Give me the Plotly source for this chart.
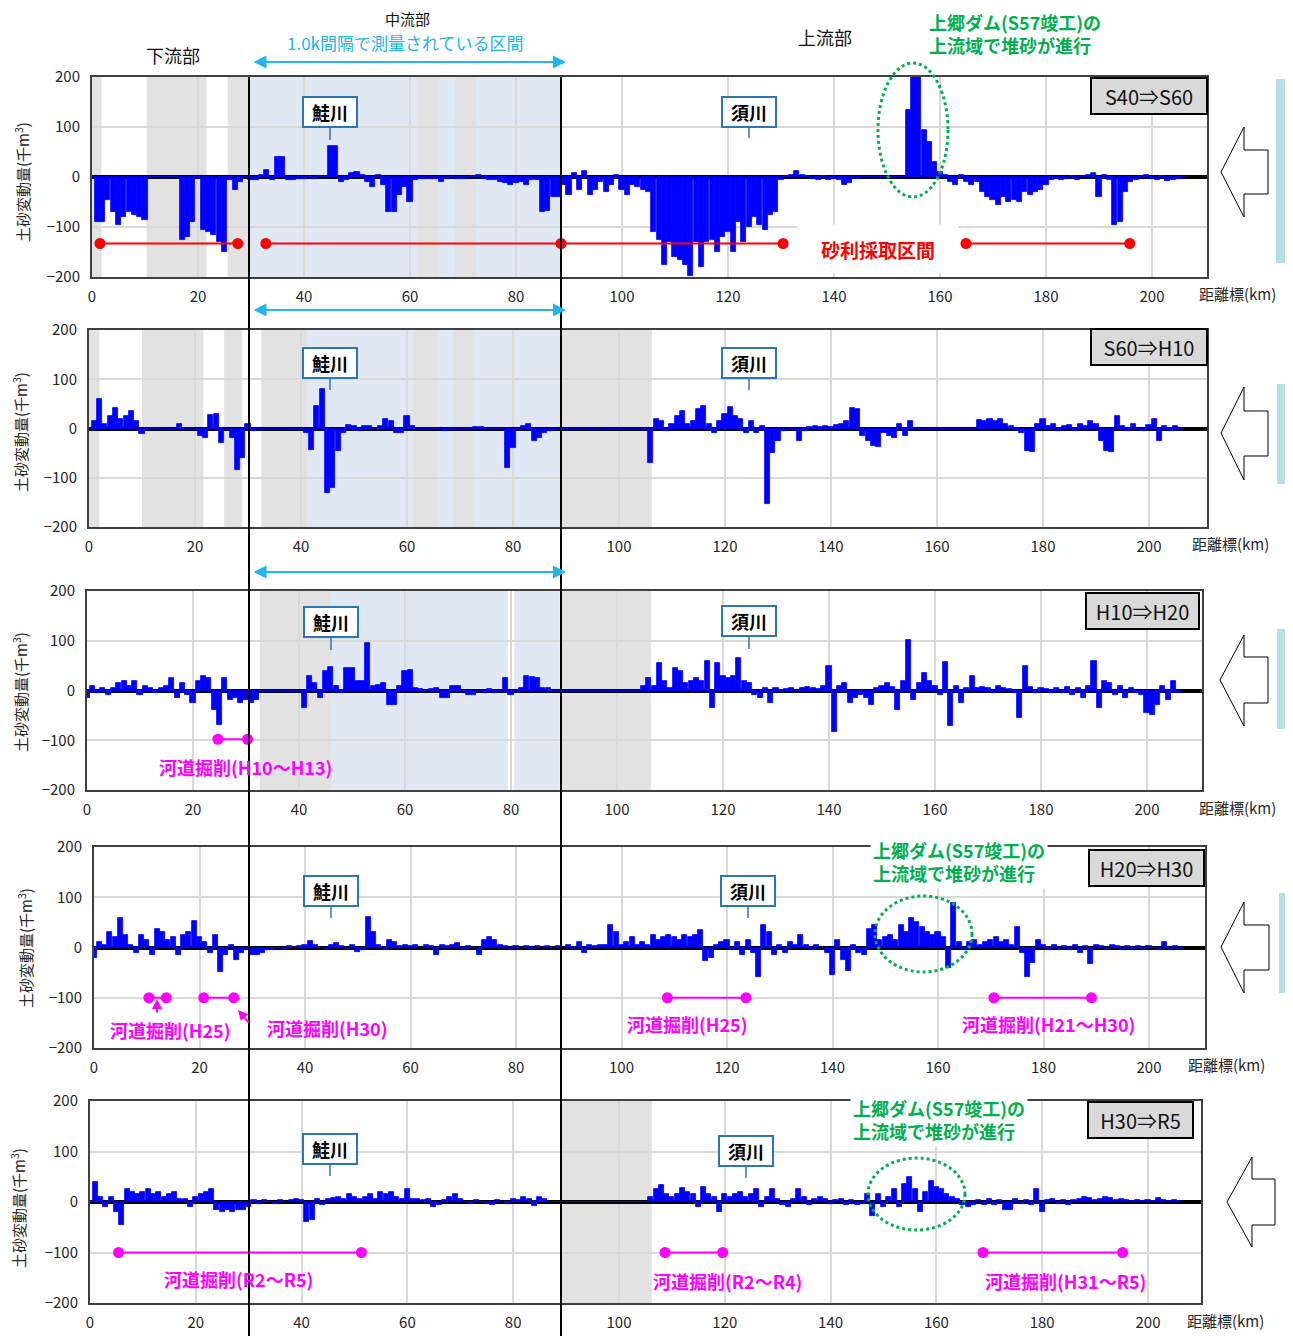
import plotly.graph_objects as go

# the page body has an 8px margin, so the figure is drawn 8px in from the window edge
OFF = 8
W, H = 1293 - OFF, 1336 - OFF
def px(x):
    return (x - OFF) / W
def py(y):
    return 1 - (y - OFF) / H

# ---------------- data ----------------
km = list(range(207))
xticks = [0, 20, 40, 60, 80, 100, 120, 140, 160, 180, 200]
yticks = [-200, -100, 0, 100, 200]
periods = ["S40⇒S60", "S60⇒H10", "H10⇒H20", "H20⇒H30", "H30⇒R5"]

s40_s60 = [0, -90, -90, -45, -70, -95, -80, -70, -75, -80,
           -85, 0, 0, 0, 0, 0, 0, -125, -120, -90,
           0, -105, -110, -115, -130, -150, -5, -25, -10, 0,
           -5, -5, 5, 15, -5, 40, 40, -5, -5, -3,
           -3, 0, -3, 2, 0, 62, 62, -10, -5, 8,
           10, 5, -10, -20, 5, -15, -70, -70, -35, -20,
           -50, -5, -3, -3, -3, -3, -10, -3, 0, -3,
           -3, -2, 3, 5, -3, -5, -5, -10, -12, -15,
           -12, -10, -15, -5, -5, -70, -68, -40, -40, -15,
           -35, 8, -25, 12, -35, -25, -10, -30, -15, 5,
           -25, -35, -15, -20, -25, -30, -110, -125, -175, -130,
           -160, -165, -175, -198, -130, -180, -130, -125, -150, -120,
           -110, -150, -90, -130, -100, -80, -95, -105, -75, -70,
           -5, 2, 5, 12, 5, 3, -3, -5, 3, -5,
           -3, -5, -15, -12, -3, -2, 0, 0, 0, 0,
           0, 0, 0, 0, 135, 200, 200, 95, 70, 30,
           10, 5, -10, -15, 5, -10, -15, -10, -30, -40,
           -45, -55, -40, -50, -45, -50, -30, -35, -30, -25,
           -15, -5, -3, -5, -3, 3, -5, 2, 5, 8,
           -40, 5, -5, -95, -90, -30, -10, -5, 3, 5,
           -3, -5, 3, -8, -5, -3, -2]

s60_h10 = [0, 15, 60, 10, 25, 42, 20, 25, 35, 15,
           -12, 0, 0, 0, 0, 0, 0, 10, 0, 0,
           0, -15, -20, 28, 30, -30, 0, -20, -85, -60,
           10, -5, -3, 0, 0, 0, 0, 0, 0, 0,
           0, -10, -44, 45, 80, -130, -120, -45, -10, 8,
           5, -5, 5, 5, 0, 5, 20, 15, -10, -10,
           25, 5, 0, 0, 0, 0, 0, -5, 0, 0,
           0, 0, 0, 3, 3, 0, 0, 0, 0, -80,
           -40, 0, 5, 10, -25, -20, -10, -5, 0, 0,
           0, 0, 0, 0, 0, 0, 0, 0, 0, 0,
           0, 0, 0, 0, 0, 0, -70, 20, 15, -5,
           10, 25, 35, 10, 15, 40, 45, 10, -10, 15,
           30, 43, 25, 20, -10, 15, -10, 5, -153, -50,
           -25, -5, -3, 0, -25, -5, 3, 5, 3, 5,
           3, 8, 10, 15, 42, 40, -15, -25, -35, -37,
           -10, -15, -20, 10, -15, 15, 0, 0, 0, 0,
           0, 0, 0, 0, 0, 0, 0, 0, 18, 15,
           20, 15, 20, 10, 5, 0, -10, -45, -47, 10,
           20, 5, 10, -5, 5, 8, -5, 10, 5, 15,
           10, -25, -45, -47, 25, 5, -5, 10, 0, -5,
           8, 20, -25, 5, -5, 5, -3]

h10_h20 = [-15, 10, -5, 5, -10, 5, 15, 20, 10, 20,
           -10, 10, 5, -5, 5, 10, 25, -15, 15, -10,
           -25, 20, 30, 25, -40, -70, 25, -20, -15, -25,
           -20, -25, -20, 0, 0, 0, 0, 0, 0, 0,
           0, -35, 30, 15, -15, 40, 48, 10, -5, 45,
           45, 20, 20, 95, 10, 12, 15, -30, -30, 10,
           40, 42, 5, 3, 0, 3, 5, -15, -15, 10,
           10, 0, -10, -10, 0, -5, 3, -5, 0, 25,
           -10, 0, 5, 30, 28, 25, 5, 5, 0, 0,
           0, 0, 0, 0, 0, 0, 0, 0, 0, 0,
           0, 0, 0, 0, 0, 10, 25, 10, 55, 20,
           5, 45, 40, 15, 20, 25, 20, 60, -35, 55,
           30, 25, 30, 65, 20, 15, -10, -15, 5, -25,
           5, -3, 3, 5, 0, 5, 8, 5, 3, 10,
           50, -83, 10, 15, -25, -15, -10, -15, -30, 5,
           10, 15, 8, -40, 20, 102, -20, 15, 35, 20,
           10, -10, 58, -72, 10, -25, 5, 30, 5, 8,
           5, -5, 10, 5, 3, -5, -55, 50, 8, -5,
           5, 3, -5, 5, -5, 8, -10, 5, -15, 10,
           60, -35, 20, 15, -10, 10, -15, 5, -5, -10,
           -45, -50, -30, 10, -20, 20, -5]

h20_h30 = [-20, 10, 5, 30, 20, 58, 25, 5, -10, 25,
           15, -15, 36, 30, 15, 20, -15, 25, 30, 52,
           20, 10, -10, 25, -48, -15, 5, -25, -10, -5,
           -15, -15, -10, -5, -5, 0, -3, 3, 0, 3,
           5, 12, 5, 0, -3, 5, 8, 3, -3, 5,
           -8, -5, 60, 30, 5, -3, 15, 10, 3, 5,
           3, 5, 0, 5, 3, -15, 5, 3, 5, 8,
           -5, 3, 0, -15, 15, 20, 15, 5, 3, -3,
           3, 0, 3, -3, 3, 0, 3, 0, 3, 0,
           5, -3, 10, -10, 5, 3, 5, 5, 45, 30,
           5, 10, 20, 5, 10, 5, 25, 15, 20, 25,
           20, 15, 25, 20, 25, 34, -26, -20, 5, 10,
           15, -5, 10, -15, 15, -10, -59, 44, 30, -15,
           5, -10, 10, 5, 25, 5, -5, 5, 0, -10,
           -55, 15, -25, -46, 5, -10, -15, 36, 45, 15,
           20, 25, 15, 45, 30, 58, 50, 40, 30, 25,
           30, 20, -40, 89, 10, -5, 10, 15, 5, 10,
           15, 20, 10, 15, 5, 41, -10, -59, -30, 15,
           5, -5, 5, -3, 3, -5, 5, -10, 3, -32,
           5, 3, -3, 5, 3, -5, 3, -5, 3, -3,
           3, 0, -5, 10, -5, 3, -3]

h30_r5 = [0, 40, 10, -10, 10, -20, -45, 25, 20, 15,
          20, 25, 15, 20, 10, 15, 20, 5, 5, -10,
          10, 15, 20, 25, -15, -20, -15, -20, -15, -15,
          -10, 3, -3, 3, 0, -3, 3, 0, 3, 5,
          3, -40, -35, 5, -5, 5, 8, 10, 5, 15,
          10, 5, 10, 15, 5, 20, 15, 20, 10, 5,
          25, 5, 5, 3, 5, -10, -5, 3, 10, 15,
          5, 0, -3, 3, 0, -3, -5, 3, 0, -3,
          5, 3, 10, 5, -8, 10, 5, 0, 0, 0,
          0, 0, 0, 0, 0, 0, 0, 0, 0, 0,
          0, 0, 0, 0, 0, 0, 10, 25, 33, 15,
          10, 15, 28, 20, 15, -10, 30, 15, 10, -20,
          15, 10, 15, 20, 10, 15, 25, -10, 10, 25,
          5, -5, -10, 5, 25, 10, -5, 5, 10, 5,
          -3, 3, 5, -5, 3, -5, -3, 15, -28, 15,
          -10, 10, 26, -10, 35, 50, 25, -20, 20, 41,
          30, 25, 15, 10, 5, -5, -10, -5, 3, -5,
          5, -5, 3, -15, -15, 5, -3, 3, -5, 25,
          -20, 3, 5, -3, 3, -5, 3, 5, 10, 8,
          3, 5, 10, 8, 3, 5, 3, 2, 3, 2,
          3, 2, 8, 3, 2, 3, 2]

series = [s40_s60, s60_h10, h10_h20, h20_h30, h30_r5]

# shaded sections (km) per panel
gray_bands = [
    [[0, 1.8], [10.3, 21.6], [25.6, 29.6], [61.3, 65.5], [68.5, 72.5]],
    [[0, 2], [10, 21.6], [25.5, 28.9], [32.5, 41.3], [61.3, 65.7], [68.7, 72.6], [89.2, 106.2]],
    [[32.6, 46.2], [89.4, 106.4]],
    [],
    [[89.2, 106.2]],
]
blue_bands = [
    [[29.8, 88.5]],
    [[41.3, 89.2]],
    [[46.2, 79.4], [80.6, 89.2]],
    [],
    [],
]

# gravel extraction (panel 1) and river excavation ranges
gravel_level = -133
gravel_ranges = [[1.5, 27.5], [32.8, 88.5, 130.4], [164.9, 195.8]]
excav_level = [None, None, -98, -100, -100]
excav_ranges = [
    [],
    [],
    [[24.7, 30.3]],
    [[10.4, 13.7], [20.8, 26.5], [108.7, 123.6], [170.6, 189.1]],
    [[5.4, 51.3], [108.7, 119.6], [168.8, 195.2]],
]

# ---------------- layout geometry (screen pixels) ----------------
panels = [
    dict(zero=92, right=1207, top=77, bottom=277, kmpx=5.3),
    dict(zero=89, right=1207, top=330, bottom=527, kmpx=5.3),
    dict(zero=87, right=1202, top=591, bottom=790, kmpx=5.3),
    dict(zero=94, right=1205, top=847, bottom=1048, kmpx=5.275),
    dict(zero=90, right=1201, top=1101, bottom=1303, kmpx=5.29),
]

FONT = "Noto Sans CJK JP"
BLUE = "#0000ff"
GREEN = "#00b050"
MAG = "#ff00ff"
CYAN = "#22b4ea"
RED = "#ff0000"

fig = go.Figure()
shapes = []
annotations = []
layout = dict(
    width=W, height=H, autosize=False,
    margin=dict(l=0, r=0, t=0, b=0, pad=0, autoexpand=False),
    paper_bgcolor="white", plot_bgcolor="white",
    showlegend=False, bargap=0,
    font=dict(family=FONT, color="#262626"),
)

for i, p in enumerate(panels):
    n = i + 1
    xa = "x" if n == 1 else f"x{n}"
    ya = "y" if n == 1 else f"y{n}"
    xkey = "xaxis" if n == 1 else f"xaxis{n}"
    ykey = "yaxis" if n == 1 else f"yaxis{n}"
    r1 = (p["right"] - p["zero"]) / p["kmpx"]
    layout[xkey] = dict(
        domain=[px(p["zero"]), px(p["right"])], anchor=ya, range=[0, r1], automargin=False,
        tickvals=xticks, ticktext=[str(v) for v in xticks],
        showgrid=True, gridcolor="#d9d9d9", gridwidth=2,
        showline=True, mirror=True, linecolor="#404040", linewidth=2,
        ticks="outside", ticklen=5, tickcolor="rgba(0,0,0,0)",
        tickfont=dict(size=15, family=FONT, color="#262626"), zeroline=False,
    )
    layout[ykey] = dict(
        domain=[py(p["bottom"]), py(p["top"])], anchor=xa, range=[-200, 200], automargin=False,
        tickvals=yticks, showgrid=True, gridcolor="#d9d9d9", gridwidth=2,
        showline=True, mirror=True, linecolor="#404040", linewidth=2,
        ticks="outside", ticklen=7, tickcolor="rgba(0,0,0,0)",
        tickfont=dict(size=15, family=FONT, color="#262626"),
        zeroline=True, zerolinecolor="black", zerolinewidth=4,
    )
    # shaded sections
    for b in blue_bands[i]:
        shapes.append(dict(type="rect", xref=xa, yref=f"{ya} domain", x0=b[0], x1=b[1], y0=0, y1=1,
                           fillcolor="#e0e8f3", line=dict(width=0), layer="below"))
    for b in gray_bands[i]:
        shapes.append(dict(type="rect", xref=xa, yref=f"{ya} domain", x0=b[0], x1=b[1], y0=0, y1=1,
                           fillcolor="#e2e2e2", line=dict(width=0), layer="below"))
    # bars
    fig.add_trace(go.Bar(x=km, y=series[i], width=0.95, xaxis=xa, yaxis=ya,
                         marker=dict(color=BLUE, line=dict(color=BLUE, width=0.8)),
                         hoverinfo="skip"))
    # excavation / gravel lines
    if i == 0:
        for rg in gravel_ranges:
            fig.add_trace(go.Scatter(x=rg, y=[gravel_level] * len(rg), mode="lines+markers",
                                     xaxis=xa, yaxis=ya, line=dict(color=RED, width=2),
                                     marker=dict(color=RED, size=11), hoverinfo="skip"))
    for rg in excav_ranges[i]:
        fig.add_trace(go.Scatter(x=rg, y=[excav_level[i]] * len(rg), mode="lines+markers",
                                 xaxis=xa, yaxis=ya, line=dict(color=MAG, width=2),
                                 marker=dict(color=MAG, size=11), hoverinfo="skip"))

# vertical black section lines
for vx in [249, 561]:
    shapes.append(dict(type="line", xref="paper", yref="paper", x0=px(vx), x1=px(vx),
                       y0=py(77), y1=py(1336), line=dict(color="black", width=2)))

# header texts
annotations += [
    dict(x=px(173), y=py(55), text="下流部", font=dict(size=18, color="#111")),
    dict(x=px(407), y=py(19), text="中流部", font=dict(size=15, color="#111")),
    dict(x=px(825), y=py(37), text="上流部", font=dict(size=18, color="#111")),
    dict(x=px(405), y=py(43), text="1.0k間隔で測量されている区間", font=dict(size=17, color=CYAN)),
]

# cyan double arrows
for ay_ in [62, 310, 572]:
    annotations.append(dict(x=px(566), y=py(ay_), ax=-(566 - 252), ay=0, axref="pixel", ayref="pixel",
                            showarrow=True, arrowside="end+start", arrowhead=2, arrowsize=1.3,
                            arrowwidth=2, arrowcolor=CYAN, text=""))

# tributary label boxes
sake = [(330, 112, 140), (330, 363, 390), (331, 622, 650), (331, 891, 918), (330, 1149, 1176)]
suka = [(749, 112, 138), (749, 363, 390), (749, 621, 649), (748, 891, 918), (746, 1151, 1178)]
for lst, label in [(sake, "鮭川"), (suka, "須川")]:
    for (cx, cy, ey) in lst:
        shapes.append(dict(type="line", xref="paper", yref="paper", x0=px(cx), x1=px(cx),
                           y0=py(cy + 16), y1=py(ey), line=dict(color="#2e75b6", width=1.5)))
        annotations.append(dict(x=px(cx), y=py(cy), text=f"<b>{label}</b>",
                                font=dict(size=18, color="black"), bgcolor="white",
                                bordercolor="#2e75b6", borderwidth=2, width=50, height=26, borderpad=1))

# period boxes
pboxes = [(1149, 96, 112), (1149, 347, 112), (1142, 611, 109), (1146, 868, 111), (1140, 1120, 101)]
for (cx, cy, w), t in zip(pboxes, periods):
    annotations.append(dict(x=px(cx), y=py(cy), text=t, font=dict(size=20, color="#111"),
                            bgcolor="#d9d9d9", bordercolor="black", borderwidth=2,
                            width=w, height=32, borderpad=1))

# distance labels
for (lx, ly) in [(1237, 293), (1230, 543), (1237, 807), (1226, 1064), (1225, 1320)]:
    annotations.append(dict(x=px(lx), y=py(ly), text="距離標(km)", font=dict(size=15, color="#262626")))

# y-axis titles
for (tx, ty) in [(22, 182), (20, 432), (20, 692), (25, 948), (18, 1208)]:
    annotations.append(dict(x=px(tx), y=py(ty), text="土砂変動量(千m<sup>3</sup>)", textangle=-90,
                            font=dict(size=15, color="#262626")))

# gravel label
annotations.append(dict(x=px(878), y=py(249), text="<b>砂利採取区間</b>", font=dict(size=19, color=RED),
                        bgcolor="white", width=158, height=46))

# excavation labels
for (lx, ly, t) in [(245, 767, "河道掘削(H10～H13)"), (170, 1030, "河道掘削(H25)"),
                    (327, 1028, "河道掘削(H30)"), (687, 1024, "河道掘削(H25)"),
                    (1048, 1024, "河道掘削(H21～H30)"), (238, 1279, "河道掘削(R2～R5)"),
                    (727, 1281, "河道掘削(R2～R4)"), (1065, 1281, "河道掘削(H31～R5)")]:
    annotations.append(dict(x=px(lx), y=py(ly), text=f"<b>{t}</b>", font=dict(size=18, color=MAG)))
annotations.append(dict(x=px(157), y=py(999), ax=0, ay=15, axref="pixel", ayref="pixel", text="",
                        showarrow=True, arrowhead=2, arrowwidth=2, arrowcolor=MAG))
annotations.append(dict(x=px(238), y=py(1010), ax=12, ay=14, axref="pixel", ayref="pixel", text="",
                        showarrow=True, arrowhead=2, arrowwidth=2, arrowcolor=MAG))

# dam notes
dam_text = "<b>上郷ダム(S57竣工)の<br>上流域で堆砂が進行</b>"
annotations.append(dict(x=px(927), y=py(33), text=dam_text, xanchor="left", align="left",
                        font=dict(size=18, color=GREEN)))
annotations.append(dict(x=px(870), y=py(861), text=dam_text, xanchor="left", align="left",
                        font=dict(size=18, color=GREEN), bgcolor="white", borderpad=2))
annotations.append(dict(x=px(850), y=py(1119), text=dam_text, xanchor="left", align="left",
                        font=dict(size=18, color=GREEN), bgcolor="white", borderpad=2))
for (x0, x1, y0, y1) in [(878, 948, 63, 197), (875, 972, 896, 972), (868, 965, 1158, 1230)]:
    shapes.append(dict(type="circle", xref="paper", yref="paper", x0=px(x0), x1=px(x1),
                       y0=py(y1), y1=py(y0), line=dict(color=GREEN, width=3, dash="dot")))

# right-side block arrows and light-blue bars
arrows = [
    (1221, 1244, 1268, 172, 127, 217, 150, 194),
    (1221, 1244, 1268, 433, 387, 480, 411, 456),
    (1220, 1244, 1268, 680, 635, 726, 657, 703),
    (1221, 1244, 1269, 947, 902, 993, 925, 970),
    (1227, 1252, 1275, 1202, 1157, 1247, 1179, 1225),
]
for (tx, bx, rx, ty, ht, hb, st, sb) in arrows:
    pts = [(tx, ty), (bx, ht), (bx, st), (rx, st), (rx, sb), (bx, sb), (bx, hb)]
    path = "M " + " L ".join(f"{px(a):.5f},{py(b):.5f}" for a, b in pts) + " Z"
    shapes.append(dict(type="path", xref="paper", yref="paper", path=path,
                       fillcolor="white", line=dict(color="black", width=1)))
for (x0, x1, y0, y1) in [(1276, 1293, 79, 263), (1277, 1293, 384, 484), (1277, 1293, 629, 729),
                         (1279, 1293, 893, 993), (1287, 1293, 1108, 1293)]:
    shapes.append(dict(type="rect", xref="paper", yref="paper", x0=px(x0), x1=px(x1),
                       y0=py(y1), y1=py(y0), fillcolor="#b7dde8", line=dict(width=0)))

for a in annotations:
    a.setdefault("xref", "paper")
    a.setdefault("yref", "paper")
    a.setdefault("showarrow", False)
    a.setdefault("xanchor", "center")
    a.setdefault("yanchor", "middle")

layout["shapes"] = shapes
layout["annotations"] = annotations
fig.update_layout(**layout)
fig.write_html("out.html", config={"responsive": False})
